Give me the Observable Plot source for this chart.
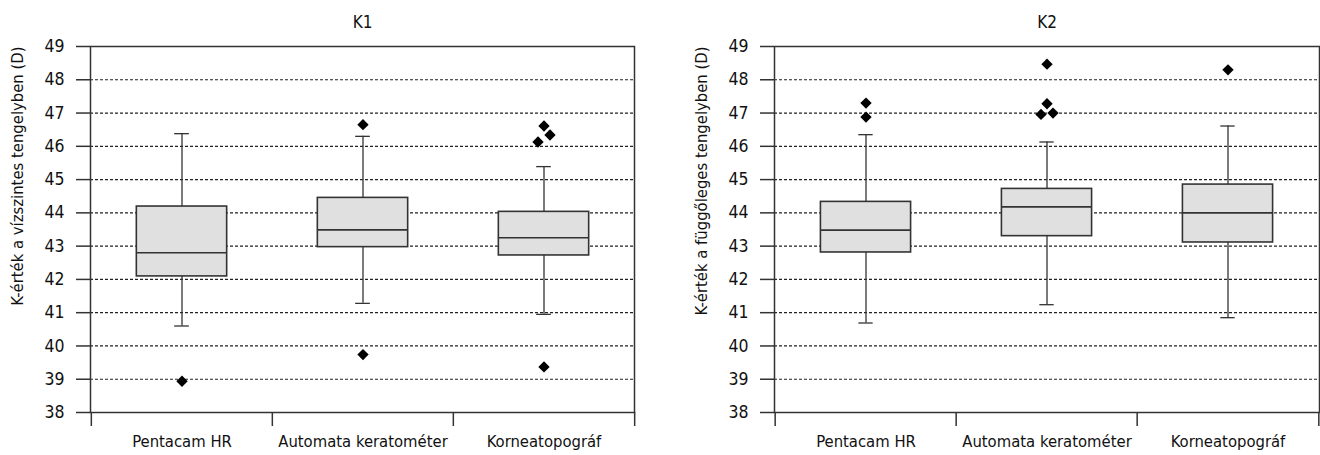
<!DOCTYPE html>
<html><head><meta charset="utf-8">
<script src="https://cdn.jsdelivr.net/npm/d3@7"></script>
<script src="https://cdn.jsdelivr.net/npm/@observablehq/plot@0.6"></script>
<style>
body{margin:0;background:#fff;}
#wrap{display:flex;width:1320px;height:455px;}
#wrap svg{display:block;font-family:"DejaVu Sans Condensed","DejaVu Sans",sans-serif !important;font-stretch:condensed !important;}
</style></head><body><div id="wrap"></div>
<script>
const categories = ["Pentacam HR", "Automata keratométer", "Korneatopográf"];
const yTicks = [38, 39, 40, 41, 42, 43, 44, 45, 46, 47, 48, 49];
const gridTicks = [39, 40, 41, 42, 43, 44, 45, 46, 47, 48];

// K1 – horizontal axis
const k1Low    = [40.60, 41.28, 40.95];
const k1Q1     = [42.09, 42.97, 42.72];
const k1Median = [42.80, 43.49, 43.25];
const k1Q3     = [44.19, 44.45, 44.03];
const k1High   = [46.38, 46.30, 45.39];
const k1OutCat   = ["Pentacam HR", "Automata keratométer", "Automata keratométer", "Korneatopográf", "Korneatopográf", "Korneatopográf", "Korneatopográf"];
const k1OutValue = [38.94, 46.65, 39.74, 46.61, 46.34, 46.13, 39.37];
const k1OutSlot  = [0, 0, 0, 0, 1, -1, 0];

// K2 – vertical axis
const k2Low    = [40.69, 41.24, 40.85];
const k2Q1     = [42.81, 43.30, 43.11];
const k2Median = [43.48, 44.18, 44.00];
const k2Q3     = [44.33, 44.72, 44.85];
const k2High   = [46.35, 46.13, 46.61];
const k2OutCat   = ["Pentacam HR", "Pentacam HR", "Automata keratométer", "Automata keratométer", "Automata keratométer", "Automata keratométer", "Korneatopográf"];
const k2OutValue = [47.30, 46.88, 48.47, 47.28, 46.96, 47.00, 48.30];
const k2OutSlot  = [0, 0, 0, 0, -1, 1, 0];

function chart({title, yLabel, low, q1, median, q3, high, outCat, outValue, outSlot, marginLeft, marginRight}) {
  const width = 660, height = 455, marginTop = 46, marginBottom = 43;
  const rows = categories.map((c, i) => ({category: c, low: low[i], q1: q1[i], median: median[i], q3: q3[i], high: high[i]}));
  const outliers = outCat.map((c, i) => ({category: c, value: outValue[i], slot: outSlot[i]}));
  const bw = (width - marginLeft - marginRight) / categories.length;
  const boxInset = bw * 0.25;
  const capInset = (bw - 15) / 2;
  const dark = "#333";
  return Plot.plot({
    width, height, marginTop, marginBottom, marginLeft, marginRight,
    style: {fontSize: "17px", color: "#111", background: "#fff"},
    x: {type: "band", domain: categories, padding: 0},
    y: {domain: [38, 49]},
    marks: [
      Plot.gridY(gridTicks, {stroke: "#222", strokeOpacity: 1, strokeDasharray: "3,2", strokeWidth: 1.2}),
      Plot.ruleX(rows, {x: "category", y1: "q3", y2: "high", stroke: dark, strokeWidth: 1.3}),
      Plot.ruleX(rows, {x: "category", y1: "low", y2: "q1", stroke: dark, strokeWidth: 1.3}),
      Plot.tickY(rows, {x: "category", y: "high", insetLeft: capInset, insetRight: capInset, stroke: dark, strokeWidth: 1.3}),
      Plot.tickY(rows, {x: "category", y: "low", insetLeft: capInset, insetRight: capInset, stroke: dark, strokeWidth: 1.3}),
      Plot.barY(rows, {x: "category", y1: "q1", y2: "q3", insetLeft: boxInset, insetRight: boxInset, fill: "#e0e0e0", stroke: dark, strokeWidth: 1.6}),
      Plot.tickY(rows, {x: "category", y: "median", insetLeft: boxInset, insetRight: boxInset, stroke: dark, strokeWidth: 1.6}),
      ...[-1, 0, 1].map(s => Plot.dot(outliers.filter(d => d.slot === s), {
        x: "category", y: "value", symbol: "diamond2", r: 5.1, fill: "#000", stroke: "none", dx: s * 6
      })),
      Plot.ruleX(categories, {x: d => d, dx: -bw / 2, y1: 38, y2: 38, insetBottom: -14, stroke: dark, strokeWidth: 1.5}),
      Plot.ruleX(categories.slice(-1), {x: d => d, dx: bw / 2, y1: 38, y2: 38, insetBottom: -14, stroke: dark, strokeWidth: 1.5}),
      Plot.axisY({ticks: yTicks, tickSize: 14, tickPadding: 12, tickFormat: d => String(d), fontSize: 17.5,
        stroke: dark, strokeWidth: 1.5, label: null}),
      Plot.axisX({tickSize: 0, tickPadding: 23, fontSize: 16.5, label: null}),
      Plot.text([yLabel], {text: d => d, frameAnchor: "top-left", dx: -79, rotate: -90,
        textAnchor: "end", lineAnchor: "top", fontSize: 16.5, fill: "#111"}),
      Plot.text([title], {text: d => d, frameAnchor: "top", dy: -24, lineAnchor: "middle", fontSize: 17, fill: "#111"}),
      Plot.frame({stroke: dark, strokeWidth: 1.5})
    ]
  });
}

const wrap = document.getElementById("wrap");
wrap.append(chart({
  title: "K1", yLabel: "K-érték a vízszintes tengelyben (D)",
  low: k1Low, q1: k1Q1, median: k1Median, q3: k1Q3, high: k1High,
  outCat: k1OutCat, outValue: k1OutValue, outSlot: k1OutSlot,
  marginLeft: 90, marginRight: 26
}));
wrap.append(chart({
  title: "K2", yLabel: "K-érték a függőleges tengelyben (D)",
  low: k2Low, q1: k2Q1, median: k2Median, q3: k2Q3, high: k2High,
  outCat: k2OutCat, outValue: k2OutValue, outSlot: k2OutSlot,
  marginLeft: 114, marginRight: 1
}));
</script></body></html>
